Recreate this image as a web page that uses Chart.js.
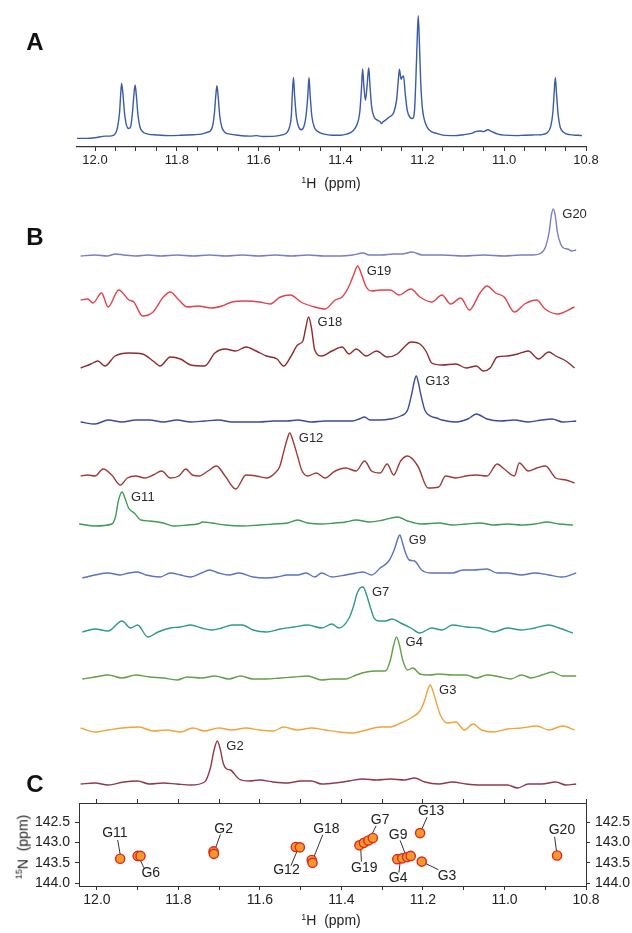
<!DOCTYPE html>
<html>
<head>
<meta charset="utf-8">
<script src="https://cdn.jsdelivr.net/npm/chart.js@4.4.1/dist/chart.umd.min.js"></script>
<style>
html, body { margin: 0; padding: 0; background: #fff; }
#fig { position: relative; width: 632px; height: 933px; overflow: hidden; font-family: 'Liberation Sans', Arial, sans-serif; color: #222; }
#fig canvas { position: absolute; left: 0; }
.t { position: absolute; transform: translate(-50%, -50%); white-space: nowrap; }
.panel { font-weight: bold; font-size: 24px; color: #111; }
.axt { font-size: 14px; }
.axt sup { font-size: 9px; }
.rot { transform: translate(-50%, -50%) rotate(-90deg); }
</style>
</head>
<body>
<div id="fig">
  <canvas id="specA" width="632" height="200" style="top:0"></canvas>
  <canvas id="mapC" width="632" height="153" style="top:780px"></canvas>
  <div class="t panel" style="left:35px; top:42px">A</div>
  <div class="t panel" style="left:35px; top:237px">B</div>
  <div class="t panel" style="left:35px; top:784px">C</div>
  <div class="t axt" style="left:331px; top:183px"><sup>1</sup>H&nbsp; (ppm)</div>
  <div class="t axt" style="left:331px; top:920px"><sup>1</sup>H&nbsp; (ppm)</div>
  <div class="t axt rot" style="left:22px; top:847px"><sup>15</sup>N&nbsp; (ppm)</div>
</div>
<script>
// 1D imino spectrum (ppm, intensity)
const spectrumA = [[12.044,-0.01],[12.02,-0.01],[12.0,-0.005],[11.975,0.008],[11.96,0.01],[11.95,0.03],[11.945,0.08],[11.94,0.2],[11.937,0.36],[11.935,0.436],[11.932,0.36],[11.928,0.2],[11.924,0.11],[11.918,0.07],[11.913,0.085],[11.909,0.18],[11.905,0.34],[11.902,0.423],[11.899,0.34],[11.895,0.18],[11.89,0.08],[11.882,0.04],[11.87,0.025],[11.85,0.018],[11.82,0.012],[11.79,0.015],[11.76,0.02],[11.74,0.025],[11.725,0.04],[11.718,0.05],[11.712,0.1],[11.708,0.2],[11.705,0.33],[11.702,0.417],[11.699,0.33],[11.695,0.17],[11.69,0.08],[11.683,0.04],[11.67,0.025],[11.65,0.015],[11.62,0.008],[11.605,0.012],[11.59,0.005],[11.56,0.008],[11.54,0.02],[11.53,0.04],[11.524,0.09],[11.52,0.18],[11.518,0.33],[11.515,0.485],[11.512,0.33],[11.508,0.17],[11.503,0.09],[11.496,0.06],[11.489,0.09],[11.484,0.18],[11.48,0.33],[11.477,0.485],[11.474,0.33],[11.47,0.17],[11.464,0.08],[11.455,0.045],[11.44,0.025],[11.42,0.016],[11.4,0.016],[11.385,0.025],[11.37,0.05],[11.36,0.1],[11.353,0.2],[11.349,0.38],[11.346,0.553],[11.343,0.42],[11.339,0.3],[11.335,0.42],[11.331,0.564],[11.328,0.42],[11.324,0.25],[11.318,0.165],[11.31,0.138],[11.303,0.125],[11.3,0.11],[11.296,0.125],[11.29,0.138],[11.28,0.165],[11.27,0.2],[11.263,0.3],[11.259,0.45],[11.256,0.551],[11.252,0.47],[11.249,0.49],[11.246,0.496],[11.242,0.36],[11.237,0.22],[11.23,0.16],[11.224,0.152],[11.219,0.22],[11.216,0.45],[11.213,0.75],[11.21,0.986],[11.207,0.75],[11.204,0.45],[11.2,0.24],[11.195,0.14],[11.188,0.08],[11.178,0.045],[11.165,0.03],[11.15,0.016],[11.12,0.012],[11.1,0.02],[11.08,0.03],[11.07,0.045],[11.06,0.05],[11.05,0.045],[11.04,0.06],[11.03,0.045],[11.015,0.025],[11.0,0.016],[10.97,0.012],[10.95,0.016],[10.93,0.018],[10.91,0.02],[10.895,0.035],[10.886,0.09],[10.881,0.2],[10.878,0.35],[10.875,0.485],[10.872,0.35],[10.868,0.18],[10.863,0.08],[10.855,0.04],[10.84,0.02],[10.82,0.015],[10.81,0.012]];

// selective 1D traces (ppm, intensity above own baseline)
const g20 = [[12.035,0],[12.0,1],[11.97,0],[11.95,2],[11.93,1],[11.9,0],[11.87,1],[11.84,0],[11.8,1],[11.76,0],[11.72,1],[11.68,0],[11.64,1],[11.6,0],[11.56,1],[11.52,0],[11.48,1],[11.44,0],[11.4,0],[11.37,1],[11.345,3],[11.33,1],[11.3,1],[11.27,2],[11.25,2],[11.225,4],[11.2,1],[11.15,1],[11.1,0],[11.05,1],[11.0,0],[10.96,1],[10.93,1],[10.91,3],[10.9,8],[10.89,24],[10.885,40],[10.88,47],[10.875,40],[10.87,24],[10.862,12],[10.855,8],[10.845,7],[10.835,5],[10.824,6]];
const g19 = [[12.035,7],[12.018,8],[12.005,4],[11.984,14],[11.968,0],[11.942,17],[11.917,7],[11.905,5],[11.884,-9],[11.858,-5],[11.833,10],[11.816,15],[11.795,7],[11.774,0],[11.749,1],[11.715,-1],[11.69,1],[11.665,5],[11.631,6],[11.598,5],[11.572,3],[11.547,10],[11.522,12],[11.497,5],[11.463,0],[11.438,-2],[11.413,7],[11.396,10],[11.379,21],[11.368,32],[11.358,41],[11.349,33],[11.337,20],[11.324,16],[11.303,17],[11.278,17],[11.257,12],[11.228,18],[11.206,10],[11.177,5],[11.152,12],[11.131,3],[11.106,9],[11.085,-3],[11.059,14],[11.042,21],[11.021,14],[11.0,10],[10.975,-5],[10.95,3],[10.921,7],[10.9,-2],[10.87,-7],[10.828,0]];
const g18 = [[12.035,-2],[12.01,2],[11.993,5],[11.976,0],[11.951,10],[11.917,13],[11.884,12],[11.858,5],[11.841,0],[11.816,9],[11.791,7],[11.766,1],[11.732,0],[11.707,13],[11.682,17],[11.656,15],[11.631,19],[11.606,15],[11.581,10],[11.555,7],[11.539,0],[11.522,9],[11.505,21],[11.492,25],[11.485,38],[11.478,49],[11.471,38],[11.463,16],[11.446,10],[11.421,15],[11.396,19],[11.379,12],[11.362,17],[11.337,10],[11.312,15],[11.286,9],[11.261,12],[11.244,19],[11.228,24],[11.206,22],[11.19,14],[11.177,3],[11.152,1],[11.118,2],[11.093,-2],[11.068,0],[11.051,-5],[11.034,-2],[11.017,9],[10.992,10],[10.967,12],[10.941,15],[10.916,7],[10.891,14],[10.874,10],[10.849,5],[10.828,-2]];
const g13 = [[12.035,0],[12.0,-2],[11.968,2],[11.934,0],[11.9,2],[11.867,2],[11.833,0],[11.8,2],[11.766,0],[11.732,1],[11.698,2],[11.665,0],[11.631,0],[11.598,0],[11.564,1],[11.53,1],[11.505,2],[11.471,0],[11.438,1],[11.404,1],[11.371,1],[11.354,3],[11.341,5],[11.328,2],[11.303,2],[11.278,3],[11.253,6],[11.236,12],[11.226,28],[11.22,40],[11.215,46],[11.21,40],[11.204,28],[11.194,12],[11.18,6],[11.165,4],[11.152,2],[11.118,0],[11.089,3],[11.068,8],[11.042,3],[11.009,1],[10.975,2],[10.941,0],[10.908,2],[10.883,3],[10.857,0],[10.824,1]];
const g12 = [[12.035,2],[12.018,3],[12.0,2],[11.98,9],[11.959,3],[11.938,-7],[11.921,0],[11.9,2],[11.879,0],[11.858,3],[11.837,7],[11.816,0],[11.795,2],[11.778,9],[11.762,3],[11.745,2],[11.724,7],[11.703,12],[11.682,2],[11.656,-11],[11.631,3],[11.606,2],[11.581,0],[11.56,5],[11.548,12],[11.539,26],[11.531,38],[11.524,45],[11.516,37],[11.505,22],[11.495,8],[11.48,2],[11.459,5],[11.438,0],[11.413,7],[11.387,10],[11.362,7],[11.341,17],[11.324,7],[11.303,5],[11.286,14],[11.27,3],[11.253,17],[11.236,22],[11.211,12],[11.186,-10],[11.16,-9],[11.143,2],[11.118,0],[11.093,2],[11.068,3],[11.042,2],[11.017,14],[11.0,9],[10.975,2],[10.963,15],[10.941,7],[10.92,10],[10.899,12],[10.874,0],[10.849,-2],[10.828,-5]];
const g11 = [[12.039,1],[12.0,-1],[11.959,1],[11.95,8],[11.943,24],[11.934,33],[11.926,26],[11.918,17],[11.904,12],[11.888,5],[11.867,4],[11.833,2],[11.808,-1],[11.774,0],[11.749,1],[11.736,3],[11.715,2],[11.682,0],[11.64,-1],[11.598,0],[11.564,1],[11.53,2],[11.505,5],[11.48,2],[11.446,1],[11.413,2],[11.387,3],[11.362,5],[11.328,3],[11.295,5],[11.261,8],[11.236,4],[11.202,1],[11.16,2],[11.126,0],[11.093,1],[11.059,2],[11.026,0],[10.992,1],[10.958,0],[10.925,1],[10.895,3],[10.866,1],[10.832,0]];
const g9 = [[12.031,-3],[12.0,0],[11.968,2],[11.938,0],[11.917,2],[11.896,3],[11.875,0],[11.841,-2],[11.816,2],[11.791,0],[11.766,-2],[11.74,2],[11.72,5],[11.698,2],[11.673,0],[11.648,2],[11.614,-2],[11.581,-3],[11.555,-2],[11.53,0],[11.505,0],[11.484,2],[11.463,-2],[11.446,2],[11.421,-2],[11.387,0],[11.362,2],[11.345,3],[11.324,0],[11.303,7],[11.282,14],[11.268,26],[11.261,35],[11.255,40],[11.249,33],[11.241,22],[11.232,15],[11.219,14],[11.202,5],[11.177,2],[11.152,2],[11.126,2],[11.101,5],[11.076,5],[11.042,6],[11.017,2],[10.992,2],[10.958,0],[10.925,2],[10.891,0],[10.857,-2],[10.824,2]];
const g7 = [[12.031,-2],[12.0,1],[11.968,-1],[11.934,9],[11.913,2],[11.896,5],[11.871,-7],[11.846,-2],[11.816,2],[11.791,3],[11.766,5],[11.74,2],[11.715,0],[11.69,2],[11.665,5],[11.64,5],[11.614,0],[11.581,-2],[11.547,1],[11.513,3],[11.48,5],[11.446,2],[11.421,6],[11.404,2],[11.379,12],[11.368,24],[11.36,36],[11.352,42],[11.345,43],[11.337,36],[11.328,24],[11.318,12],[11.305,9],[11.29,9],[11.274,11],[11.253,7],[11.228,2],[11.206,-3],[11.177,2],[11.152,0],[11.126,5],[11.093,3],[11.059,2],[11.026,-2],[10.992,2],[10.958,0],[10.925,2],[10.891,5],[10.866,2],[10.832,-3]];
const g4 = [[12.031,-2],[12.0,0],[11.968,2],[11.934,-1],[11.9,2],[11.867,0],[11.833,-1],[11.8,-3],[11.774,0],[11.74,-1],[11.707,1],[11.673,-2],[11.644,1],[11.614,-2],[11.581,-2],[11.547,-1],[11.513,0],[11.48,1],[11.446,-3],[11.421,-2],[11.387,-2],[11.362,2],[11.337,5],[11.312,6],[11.29,6],[11.278,17],[11.27,32],[11.263,40],[11.256,32],[11.248,17],[11.236,7],[11.223,9],[11.206,3],[11.181,2],[11.16,3],[11.126,2],[11.093,2],[11.068,-1],[11.042,2],[11.009,0],[10.984,-2],[10.958,2],[10.933,-1],[10.908,2],[10.883,5],[10.857,1],[10.824,1]];
const g3 = [[12.035,2],[12.0,-2],[11.968,0],[11.934,2],[11.892,3],[11.858,-1],[11.825,0],[11.791,-2],[11.761,2],[11.732,-1],[11.698,2],[11.665,0],[11.631,2],[11.598,0],[11.564,-1],[11.539,3],[11.505,0],[11.471,2],[11.438,0],[11.404,-2],[11.371,-3],[11.337,0],[11.303,3],[11.278,3],[11.253,7],[11.228,12],[11.206,19],[11.194,30],[11.187,40],[11.181,45],[11.175,40],[11.169,32],[11.156,15],[11.139,7],[11.118,8],[11.097,0],[11.076,6],[11.055,0],[11.026,-2],[10.992,1],[10.958,2],[10.92,4],[10.891,0],[10.857,4],[10.828,0]];
const g2 = [[12.035,-2],[12.0,-1],[11.968,-3],[11.93,0],[11.896,1],[11.867,-2],[11.833,-1],[11.8,-2],[11.766,-3],[11.732,0],[11.718,14],[11.709,32],[11.701,41],[11.694,33],[11.686,18],[11.678,13],[11.669,12],[11.648,3],[11.623,1],[11.598,2],[11.564,0],[11.53,-1],[11.497,1],[11.471,1],[11.446,-2],[11.413,-1],[11.379,1],[11.345,3],[11.312,2],[11.278,3],[11.244,2],[11.219,4],[11.194,0],[11.16,-2],[11.126,0],[11.093,-2],[11.059,-3],[11.026,-3],[10.992,-3],[10.967,-6],[10.941,-2],[10.908,-2],[10.874,0],[10.849,-3],[10.824,-2]];

const traceNames = ['G20', 'G19', 'G18', 'G13', 'G12', 'G11', 'G9', 'G7', 'G4', 'G3', 'G2'];
const traceData = [g20, g19, g18, g13, g12, g11, g9, g7, g4, g3, g2];

// 2D HSQC cross peaks (1H ppm, 15N ppm)
const peakNames = ['G11', 'G6', 'G2', 'G12', 'G18', 'G19', 'G7', 'G9', 'G4', 'G13', 'G3', 'G20'];
const peakH = [11.941, 11.898, 11.713, 11.505, 11.472, 11.353, 11.33, 11.24, 11.255, 11.207, 11.203, 10.871];
const peakN = [143.41, 143.34, 143.25, 143.12, 143.47, 143.08, 142.9, 143.37, 143.4, 142.77, 143.47, 143.32];
const labelH = [11.956, 11.868, 11.689, 11.535, 11.437, 11.344, 11.305, 11.261, 11.261, 11.18, 11.141, 10.859];
const labelN = [142.77, 143.76, 142.67, 143.67, 142.67, 143.63, 142.44, 142.81, 143.87, 142.22, 143.83, 142.7];
const leaderH = [11.949, 11.885, 11.697, 11.524, 11.446, 11.351, 11.315, 11.256, 11.259, 11.19, 11.162, 10.877];
const leaderN = [142.94, 143.62, 142.8, 143.57, 142.81, 143.47, 142.59, 142.95, 143.74, 142.38, 143.67, 142.86];
// contour footprint of each cross peak
const contourH = [11.943, 11.900, 11.893, 11.714, 11.713, 11.512, 11.502, 11.473, 11.471, 11.356, 11.345, 11.334, 11.323, 11.263, 11.251, 11.239, 11.230, 11.207, 11.203, 10.871];
const contourN = [143.40, 143.33, 143.33, 143.22, 143.28, 143.11, 143.12, 143.43, 143.50, 143.07, 143.01, 142.95, 142.89, 143.41, 143.39, 143.36, 143.33, 142.77, 143.47, 143.32];

const hTicksMajor = [12.0, 11.8, 11.6, 11.4, 11.2, 11.0, 10.8];
const nTicks = [142.5, 143.0, 143.5, 144.0];

// layout
const traceBase = [255.5, 307, 366, 422, 478, 524.5, 574.5, 629.7, 676.6, 730, 781.7];
const traceColors = ['#7b7cc6', '#e2414b', '#8e2b2f', '#3b4a9b', '#a03a3a', '#3f9b54', '#5a72c0', '#2e9a8c', '#62a048', '#f2a33a', '#8e3a4c'];
const font = "'Liberation Sans', Arial, sans-serif";
const hMin = 10.8, hMax = 12.044;

Chart.defaults.font.family = font;
Chart.defaults.color = '#222';

const pts = (arr) => arr.map(([x, y]) => ({ x, y }));
const r2 = (v) => Math.round(v * 100) / 100;
const hTicks = (step) => {
    const out = [];
    for (let v = 10.8; v <= 12.0001; v += step) out.push({ value: r2(v) });
    return out;
};
const hLabel = (v) => (hTicksMajor.includes(r2(v)) ? Number(v).toFixed(1) : '');

const baseOpts = {
    responsive: false,
    animation: false,
    devicePixelRatio: 1,
    events: [],
    plugins: { legend: { display: false }, tooltip: { enabled: false } },
};

// ---- A
new Chart(document.getElementById('specA'), {
    type: 'line',
    data: {
        datasets: [{
            data: pts(spectrumA),
            borderColor: '#3a5ba5',
            borderWidth: 1.4,
            pointRadius: 0,
            cubicInterpolationMode: 'monotone',
        }],
    },
    options: {
        ...baseOpts,
        layout: { padding: { left: 77, right: 46, top: 14, bottom: 0 } },
        scales: {
            x: {
                type: 'linear', reverse: true, min: hMin, max: hMax,
                afterBuildTicks: (ax) => { ax.ticks = hTicks(0.05); },
                afterFit: (s) => { s.height = 53; },
                ticks: { autoSkip: false, maxRotation: 0, padding: 2, font: { size: 13 }, color: '#222', callback: hLabel },
                grid: { drawOnChartArea: false, tickLength: 4, color: '#333' },
                border: { color: '#333', width: 1.2 },
            },
            y: { display: false, min: -0.08, max: 1.0 },
        },
    },
});

// ---- B
const peakLabel = {
    id: 'peakLabel',
    afterDatasetsDraw(chart, args, opts) {
        const data = chart.data.datasets[0].data;
        let top = data[0];
        data.forEach((p) => { if (p.y > top.y) top = p; });
        const ctx = chart.ctx;
        ctx.save();
        ctx.font = '13px ' + font;
        ctx.fillStyle = '#2a2a2a';
        ctx.textBaseline = 'middle';
        ctx.fillText(opts.text, chart.scales.x.getPixelForValue(top.x) + 9, chart.scales.y.getPixelForValue(top.y) + 5);
        ctx.restore();
    },
};

const fig = document.getElementById('fig');
traceData.forEach((trace, i) => {
    const cv = document.createElement('canvas');
    cv.width = 632;
    cv.height = 75;
    cv.style.top = (traceBase[i] - 55) + 'px';
    fig.appendChild(cv);
    new Chart(cv, {
        type: 'line',
        data: {
            datasets: [{
                data: pts(trace),
                borderColor: traceColors[i],
                borderWidth: 1.4,
                pointRadius: 0,
                cubicInterpolationMode: 'monotone',
                clip: false,
            }],
        },
        options: {
            ...baseOpts,
            layout: { padding: { left: 77, right: 46, top: 0, bottom: 0 } },
            plugins: { ...baseOpts.plugins, peakLabel: { text: traceNames[i] } },
            scales: {
                x: { type: 'linear', reverse: true, min: hMin, max: hMax, display: false },
                y: { min: -20, max: 55, display: false },
            },
        },
        plugins: [peakLabel],
    });
});

// ---- C
const callouts = {
    id: 'callouts',
    beforeDatasetsDraw(chart) {
        const { ctx, scales: { x, y } } = chart;
        ctx.save();
        ctx.strokeStyle = '#333';
        ctx.lineWidth = 1;
        peakNames.forEach((n, i) => {
            ctx.beginPath();
            ctx.moveTo(x.getPixelForValue(leaderH[i]), y.getPixelForValue(leaderN[i]));
            ctx.lineTo(x.getPixelForValue(peakH[i]), y.getPixelForValue(peakN[i]));
            ctx.stroke();
        });
        ctx.restore();
    },
    afterDatasetsDraw(chart) {
        const { ctx, scales: { x, y } } = chart;
        ctx.save();
        ctx.font = '14px ' + font;
        ctx.fillStyle = '#222';
        ctx.textAlign = 'center';
        ctx.textBaseline = 'middle';
        peakNames.forEach((n, i) => {
            ctx.fillText(n, x.getPixelForValue(labelH[i]), y.getPixelForValue(labelN[i]));
        });
        ctx.restore();
    },
};

const hAxisC = (pos, fit, showLabels) => ({
    type: 'linear', position: pos, reverse: true, min: hMin, max: hMax,
    afterBuildTicks: (ax) => { ax.ticks = hTicks(0.1); },
    afterFit: fit,
    ticks: { display: showLabels, autoSkip: false, maxRotation: 0, padding: 2, font: { size: 14 }, color: '#222', callback: hLabel },
    grid: { drawOnChartArea: false, tickLength: 4, color: '#333' },
    border: { color: '#333', width: 1 },
});
const nAxisC = (pos, fit) => ({
    position: pos, reverse: true, min: 142.03, max: 144.07,
    afterBuildTicks: (ax) => { ax.ticks = nTicks.map((v) => ({ value: v })); },
    afterFit: fit,
    ticks: { autoSkip: false, padding: 5, font: { size: 14 }, color: '#222', callback: (v) => Number(v).toFixed(1) },
    grid: { drawOnChartArea: false, tickLength: 4, color: '#333' },
    border: { color: '#333', width: 1 },
});

const contourPts = contourH.map((h, i) => ({ x: h, y: contourN[i] }));
new Chart(document.getElementById('mapC'), {
    type: 'scatter',
    data: {
        datasets: [
            { data: contourPts, pointRadius: 4.6, backgroundColor: '#f39a2c', borderColor: '#e1261c', borderWidth: 1.4, xAxisID: 'x', yAxisID: 'y' },
            { data: contourPts, pointRadius: 2.2, backgroundColor: '#f4d84c', borderWidth: 0, xAxisID: 'x', yAxisID: 'y' },
            { data: peakH.map((h, i) => ({ x: h, y: peakN[i] })), pointRadius: 0.9, backgroundColor: '#2f6e3a', borderWidth: 0, xAxisID: 'x', yAxisID: 'y' },
        ],
    },
    options: {
        ...baseOpts,
        layout: { padding: { left: 0, right: 0, top: 23, bottom: 0 } },
        scales: {
            x: hAxisC('bottom', (s) => { s.height = 47; }, true),
            xTop: hAxisC('top', (s) => { s.height = 0; }, false),
            y: nAxisC('left', (s) => { s.width = 79; }),
            yRight: nAxisC('right', (s) => { s.width = 46; }),
        },
    },
    plugins: [callouts],
});
</script>
</body>
</html>
